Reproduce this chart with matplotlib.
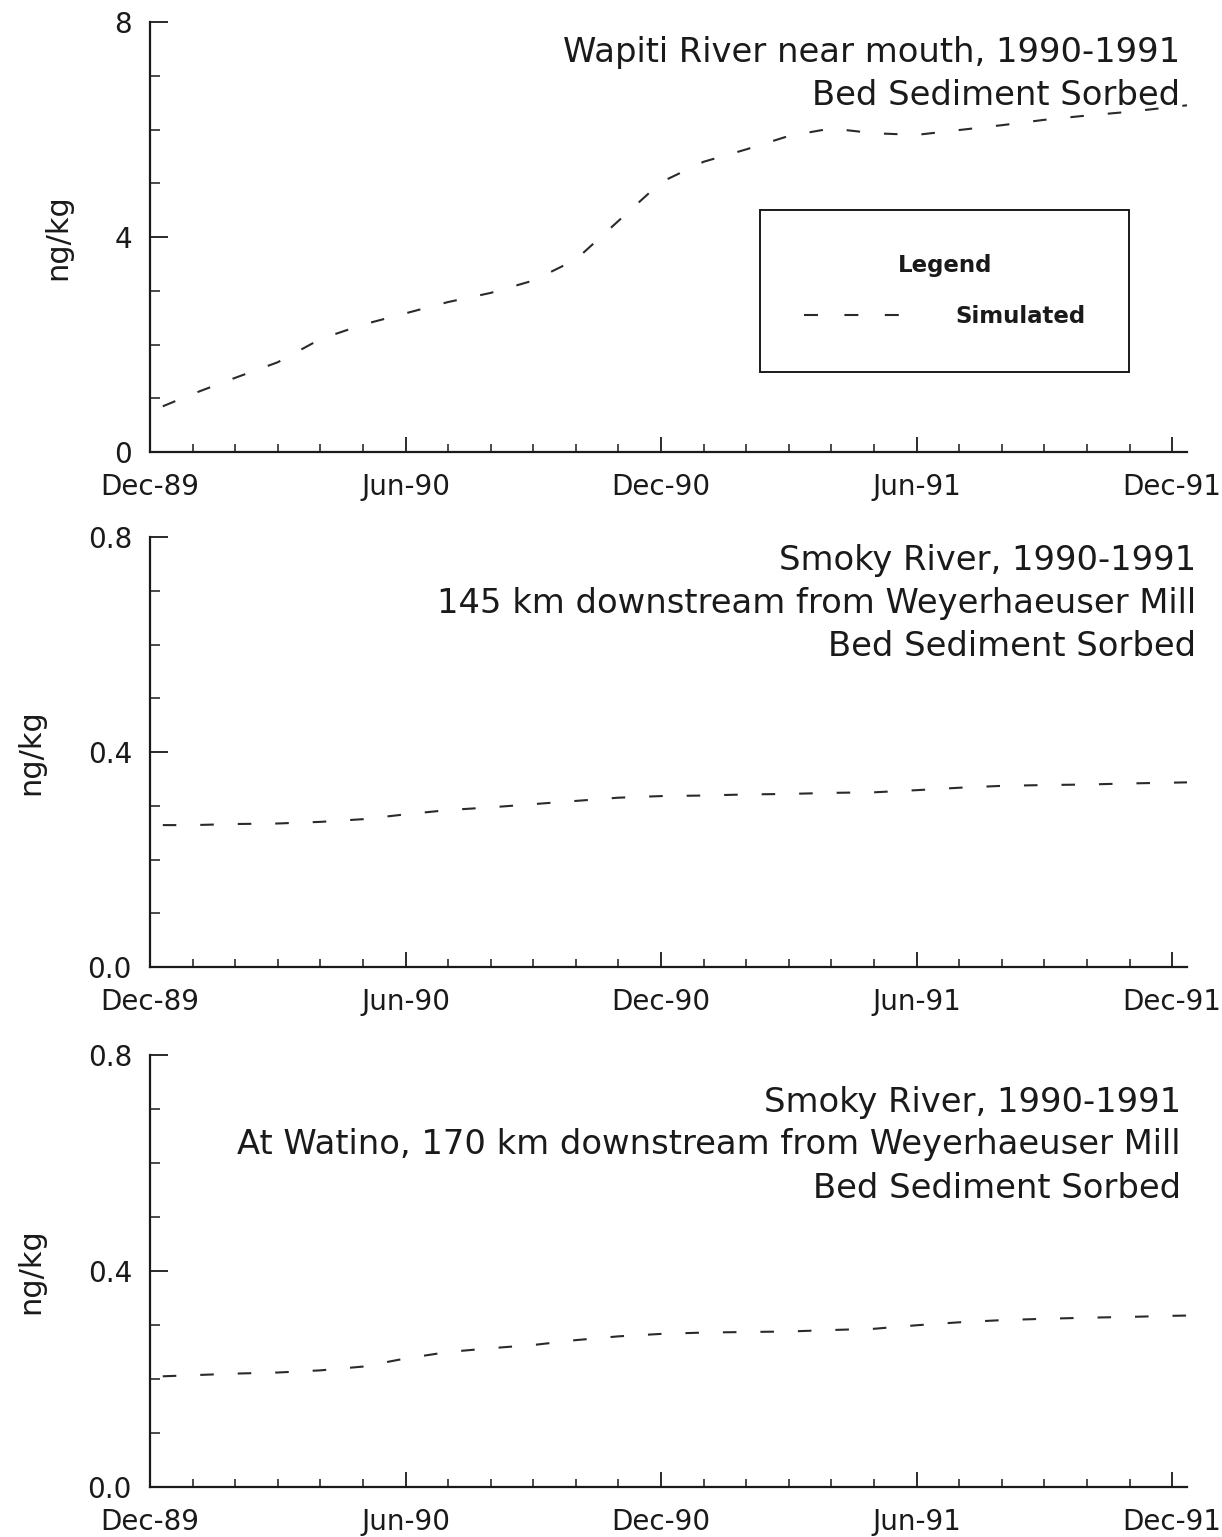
import matplotlib
matplotlib.use("Agg")
import matplotlib.pyplot as plt
from matplotlib.ticker import MultipleLocator, FixedLocator, FixedFormatter
from matplotlib.lines import Line2D

plt.rcParams['font.family'] = ['DejaVu Sans']

# Time axis: months elapsed since Dec-89
months = [0.3, 1, 2, 3, 4, 5, 6, 7, 8, 9, 10, 11, 12, 13, 14, 15, 16, 17, 18,
          19, 20, 21, 22, 23, 24, 24.35]

# Simulated bed-sediment sorbed concentrations (ng/kg)
wapiti_mouth = [0.85, 1.08, 1.38, 1.67, 2.10, 2.37, 2.58, 2.79, 2.96, 3.19, 3.58,
                4.30, 5.02, 5.40, 5.63, 5.88, 6.02, 5.93, 5.90, 5.99, 6.08, 6.18,
                6.26, 6.33, 6.42, 6.45]
smoky_145km = [0.264, 0.264, 0.266, 0.267, 0.270, 0.275, 0.284, 0.292, 0.297,
               0.303, 0.309, 0.315, 0.318, 0.319, 0.321, 0.322, 0.324, 0.325,
               0.329, 0.3335, 0.337, 0.3385, 0.3395, 0.3415, 0.343, 0.3435]
smoky_watino = [0.205, 0.207, 0.210, 0.212, 0.216, 0.223, 0.238, 0.250, 0.257,
                0.263, 0.272, 0.279, 0.2835, 0.286, 0.287, 0.288, 0.2907, 0.293,
                0.2995, 0.305, 0.309, 0.3115, 0.3135, 0.315, 0.317, 0.3175]

date_ticks = [0, 6, 12, 18, 24]
date_labels = ["Dec-89", "Jun-90", "Dec-90", "Jun-91", "Dec-91"]

panels = [
    dict(values=wapiti_mouth, ymax=8, major=4, minor=1, fmt="{:.0f}",
         titles=["Wapiti River near mouth, 1990-1991", "Bed Sediment Sorbed"],
         title_x=0.993, title_y=[0.930, 0.828], label_x=-0.075, legend=True),
    dict(values=smoky_145km, ymax=0.8, major=0.4, minor=0.1, fmt="{:.1f}",
         titles=["Smoky River, 1990-1991",
                 "145 km downstream from Weyerhaeuser Mill",
                 "Bed Sediment Sorbed"],
         title_x=1.0087, title_y=[0.9465, 0.8465, 0.7465], label_x=-0.101,
         legend=False),
    dict(values=smoky_watino, ymax=0.8, major=0.4, minor=0.1, fmt="{:.1f}",
         titles=["Smoky River, 1990-1991",
                 "At Watino, 170 km downstream from Weyerhaeuser Mill",
                 "Bed Sediment Sorbed"],
         title_x=0.994, title_y=[0.891, 0.792, 0.692], label_x=-0.101,
         legend=False),
]

W, H = 1222, 1537
fig = plt.figure(figsize=(W / 100, H / 100), dpi=100)
fig.patch.set_facecolor("white")

# axes boxes in pixels: (left, top, right, bottom)
boxes = [(150, 22, 1187, 452), (150, 537, 1187, 967), (150, 1055, 1187, 1487)]

line_color = "#2a2a2a"
axis_color = "#1a1a1a"
dash = (0, (6.5, 11.5))

for box, p in zip(boxes, panels):
    l, t, r, b = box
    ax = fig.add_axes([l / W, 1 - b / H, (r - l) / W, (b - t) / H])
    ax.plot(months, p["values"], color=line_color, lw=1.5, linestyle=dash,
            label="Simulated")
    ax.set_xlim(0, 24.35)
    ax.set_ylim(0, p["ymax"])

    for side in ("top", "right"):
        ax.spines[side].set_visible(False)
    for side in ("left", "bottom"):
        ax.spines[side].set_linewidth(1.6)
        ax.spines[side].set_color(axis_color)

    ax.xaxis.set_major_locator(FixedLocator(date_ticks))
    ax.xaxis.set_major_formatter(FixedFormatter(date_labels))
    ax.xaxis.set_minor_locator(MultipleLocator(1))
    ax.yaxis.set_minor_locator(MultipleLocator(p["minor"]))
    yt = [i * p["major"] for i in range(3)]
    ax.set_yticks(yt)
    ax.set_yticklabels([p["fmt"].format(v) for v in yt])

    ax.tick_params(axis="x", which="major", direction="in", length=11,
                   width=1.3, pad=15, labelsize=20, colors=axis_color)
    ax.tick_params(axis="x", which="minor", direction="in", length=6,
                   width=1.1, colors=axis_color)
    ax.tick_params(axis="y", which="major", direction="in", length=13,
                   width=1.3, pad=13, labelsize=20, colors=axis_color)
    ax.tick_params(axis="y", which="minor", direction="in", length=7,
                   width=1.1, colors=axis_color)

    ax.set_ylabel("ng/kg", fontsize=22, color=axis_color)
    ax.yaxis.set_label_coords(p["label_x"], 0.5)

    for txt, ty in zip(p["titles"], p["title_y"]):
        ax.text(p["title_x"], ty, txt, transform=ax.transAxes, ha="right",
                va="center", fontsize=24.3, color=axis_color)

    if p["legend"]:
        handle = Line2D([], [], color=line_color, lw=1.5,
                        linestyle=(0, (6.7, 12.7)))
        leg = ax.legend([handle], ["Simulated"], loc="upper left",
                        bbox_to_anchor=((760 - l) / (r - l), (b - 210) / (b - t)),
                        title="Legend",
                        title_fontproperties={"size": 16.5, "weight": "bold"},
                        prop={"size": 16.5, "weight": "bold"},
                        frameon=True, fancybox=False, shadow=False,
                        framealpha=1, edgecolor=axis_color,
                        borderpad=1.92, handlelength=4.15, handletextpad=2.45,
                        labelspacing=1.22, borderaxespad=0)
        leg.get_frame().set_linewidth(1.4)
        leg.get_title().set_color(axis_color)
        for t_ in leg.get_texts():
            t_.set_color(axis_color)

fig.savefig("out.png", dpi=100, facecolor="white")
